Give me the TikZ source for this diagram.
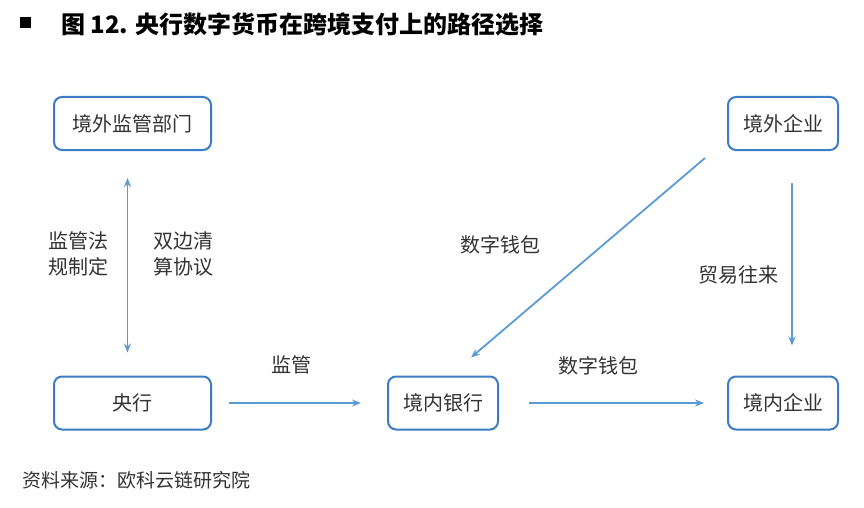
\documentclass[tikz,border=0pt]{standalone}
\usepackage{fontspec}
\setmainfont{Noto Sans CJK SC}
\usetikzlibrary{arrows.meta}
\definecolor{boxblue}{HTML}{3B7CC4}
\definecolor{arrblue}{HTML}{5B9BD5}
\definecolor{txt}{HTML}{333333}
\tikzset{
  box/.style={draw=boxblue, line width=2pt, rounded corners=8pt, minimum height=53pt, text=txt, font=\fontsize{20}{24}\selectfont, inner sep=0pt},
  conn/.style={draw=arrblue, line width=1.8pt, -{Stealth[length=9pt,width=7pt]}},
  lbl/.style={text=txt, font=\fontsize{20}{26}\selectfont, align=center, inner sep=0pt}
}
\begin{document}
\begin{tikzpicture}[x=1pt,y=-1pt]
\useasboundingbox[fill=white] (0,0) rectangle (864,508);
% title
\fill[black] (20,17) rectangle (31,28);
\node[anchor=west, inner sep=0pt, font=\fontsize{24}{27}\selectfont\bfseries] (title) at (61,24) {图 12. 央行数字货币在跨境支付上的路径选择};
% boxes
\node[box, minimum width=157pt] (jwjg) at (132.5,123.5) {境外监管部门};
\node[box, minimum width=110pt] (jwqy) at (783,123.5) {境外企业};
\node[box, minimum width=157pt] (yh) at (132.5,403) {央行};
\node[box, minimum width=110pt] (jnyh) at (443,403) {境内银行};
\node[box, minimum width=110pt] (jnqy) at (783,403) {境内企业};
% connectors
\draw[conn, {Stealth[length=9pt,width=7pt]}-{Stealth[length=9pt,width=7pt]}, shorten <=27pt, shorten >=23pt] ([xshift=-5pt]jwjg.south) -- ([xshift=-5pt]yh.north);
\draw[conn, shorten <=17pt, shorten >=26pt] (yh.east) -- (jnyh.west);
\draw[conn, shorten <=30pt, shorten >=23pt] (jnyh.east) -- (jnqy.west);
\draw[conn, shorten <=32pt, shorten >=30pt] ([xshift=9pt]jwqy.south) -- ([xshift=9pt]jnqy.north);
\draw[conn] ([xshift=-22pt,yshift=-7pt]jwqy.south west) -- ([xshift=-28pt,yshift=18pt]jnyh.north east);
% labels
\node[lbl] (l1) at (78,254) {监管法\\规制定};
\node[lbl] (l2) at (183,254) {双边清\\算协议};
\node[lbl] (l3) at (291,365) {监管};
\node[lbl] (l4) at (500,245) {数字钱包};
\node[lbl] (l5) at (598,366) {数字钱包};
\node[lbl] (l6) at (738,275) {贸易往来};
\node[anchor=west, inner sep=0pt, text=txt, font=\fontsize{19}{22}\selectfont] (src) at (22,480) {资料来源：欧科云链研究院};
\end{tikzpicture}
\end{document}
